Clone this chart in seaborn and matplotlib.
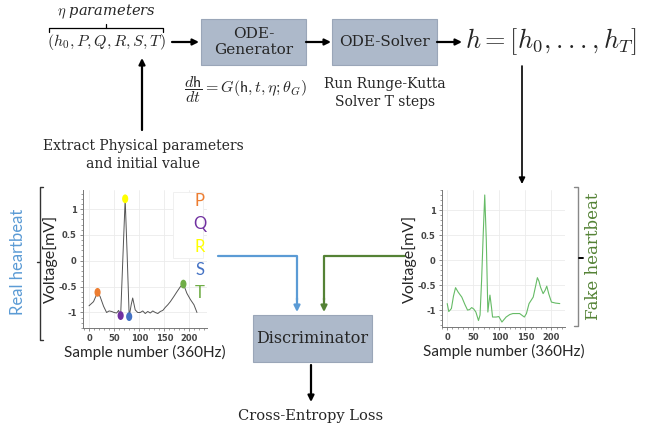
import numpy as np
import pandas as pd
import matplotlib
matplotlib.use("Agg")
import matplotlib.pyplot as plt
from matplotlib.patches import Rectangle
from matplotlib.path import Path
from matplotlib.transforms import Affine2D
from matplotlib.ticker import AutoMinorLocator
import seaborn as sns

# real heartbeat samples (sample index, voltage mV)
real_x = [0, 9, 17, 22, 29, 35, 40, 45, 50, 55, 59, 63, 68, 72, 76, 80, 84, 87, 92,
          97, 102, 107, 112, 117, 122, 127, 132, 137, 142, 147, 152, 157, 162, 169,
          175, 182, 188, 195, 202, 209, 215]
real_y = [-0.87, -0.79, -0.61, -0.69, -0.88, -1.0, -0.97, -0.98, -1.0, -1.01, -0.96,
          -1.06, 0.2, 1.2, 0.1, -1.08, -0.85, -0.72, -0.95, -1.0, -1.0, -0.97, -1.02,
          -0.98, -1.01, -0.97, -1.0, -1.02, -0.98, -0.96, -0.9, -0.85, -0.79, -0.69,
          -0.6, -0.5, -0.45, -0.63, -0.75, -0.85, -1.0]
# annotated fiducial points P, Q, R, S, T
pqrst_names = ["P", "Q", "R", "S", "T"]
pqrst_x = [17, 63, 72, 80, 188]
pqrst_y = [-0.61, -1.06, 1.2, -1.08, -0.45]
pqrst_colors = ["#ED7D31", "#7030A0", "#FFFF00", "#4472C4", "#70AD47"]

# generated (fake) heartbeat
fake_x = [0, 3, 8, 12, 16, 21, 28, 34, 39, 43, 47, 51, 55, 60, 63, 66, 69, 72, 75,
          78, 80, 82, 85, 87, 94, 99, 105, 113, 120, 126, 139, 148, 152, 157, 165,
          170, 173, 176, 179, 184, 188, 191, 195, 200, 208, 216]
fake_y = [-0.87, -1.03, -0.97, -0.72, -0.55, -0.64, -0.74, -0.89, -1.0, -0.99, -0.95,
          -0.98, -1.04, -1.21, -1.1, -0.4, 0.5, 1.31, 0.4, -1.04, -0.85, -0.70,
          -0.95, -1.14, -1.14, -1.13, -1.24, -1.14, -1.09, -1.07, -1.07, -1.14,
          -1.07, -0.87, -0.74, -0.5, -0.35, -0.42, -0.54, -0.67, -0.6, -0.52,
          -0.68, -0.84, -0.86, -0.87]

W, H = 647, 429
sns.set_theme(style="whitegrid")
plt.rcParams["font.family"] = ["DejaVu Serif"]
plt.rcParams["mathtext.fontset"] = "cm"

fig = plt.figure(figsize=(W / 100, H / 100), dpi=100)
bg = fig.add_axes([0, 0, 1, 1])
bg.set_xlim(0, W)
bg.set_ylim(H, 0)
bg.axis("off")

serif = "DejaVu Serif"
sans = "Lato"
box_col = "#ADB9CA"


def arrow(x0, y0, x1, y1, color="black", lw=1.6):
    bg.annotate("", xy=(x1, y1), xytext=(x0, y0),
                arrowprops=dict(arrowstyle="-|>", color=color, lw=lw,
                                mutation_scale=9, shrinkA=0, shrinkB=0))


def box(x0, y0, x1, y1, text, fs=11):
    bg.add_patch(Rectangle((x0, y0), x1 - x0, y1 - y0, facecolor=box_col,
                           edgecolor="#9AA6B8", lw=0.8))
    bg.text((x0 + x1) / 2, (y0 + y1) / 2, text, ha="center", va="center",
            fontsize=fs, family=serif, linespacing=1.25)


# top row
bg.text(106, 12, r"$\eta$ parameters", ha="center", va="center", fontsize=10.5,
        family=serif, style="italic")
bg.plot([49, 49, 163, 163], [32, 28, 28, 32], color="black", lw=0.9)
bg.plot([106, 106], [28, 24], color="black", lw=0.9)
bg.text(106, 42, r"$(h_0,P,Q,R,S,T)$", ha="center", va="center", fontsize=11.5)
arrow(172, 42, 199, 42)
box(201, 19, 306, 65, "ODE-\nGenerator")
arrow(306, 42, 331, 42)
box(332, 19, 437, 65, "ODE-Solver")
arrow(437, 42, 462, 42)
bg.text(551, 42, r"$h=[h_0,...,h_T]$", ha="center", va="center", fontsize=19)
bg.text(245, 90, r"$\dfrac{d\mathsf{h}}{dt}=G(\mathsf{h},t,\eta;\theta_G)$",
        ha="center", va="center", fontsize=11.5)
bg.text(385, 93, "Run Runge-Kutta\nSolver T steps", ha="center", va="center",
        fontsize=10, family=serif, linespacing=1.3)

# extraction arrow
arrow(142, 130, 142, 58)
bg.text(143, 155, "Extract Physical parameters\nand initial value", ha="center",
        va="center", fontsize=10, family=serif, linespacing=1.3)

# h -> fake heartbeat
arrow(522, 66, 522, 184, lw=1.2)

# brackets
bg.plot([43, 40, 40, 43], [187, 187, 340, 340], color="#333333", lw=1)
bg.plot([37, 40], [262, 262], color="#333333", lw=1)
bg.text(18, 262, "Real heartbeat", rotation=90, ha="center", va="center",
        fontsize=12, family=sans, color="#5B9BD5")
bg.plot([574, 578, 578, 574], [187, 187, 326, 326], color="#888888", lw=1)
bg.plot([579, 583], [258, 258], color="black", lw=1.4)
bg.text(594, 256, "Fake heartbeat", rotation=90, ha="center", va="center",
        fontsize=12, family=serif, color="#548235")

# connections to discriminator
bg.plot([218, 297, 297], [256, 256, 300], color="#5B9BD5", lw=1.6)
arrow(297, 298, 297, 312, color="#5B9BD5")
bg.plot([405, 324, 324], [256, 256, 300], color="#548235", lw=1.6)
arrow(324, 298, 324, 312, color="#548235")
box(253, 315, 372, 362, "Discriminator", fs=11.5)
arrow(311, 365, 311, 402)
bg.text(311, 416, "Cross-Entropy Loss", ha="center", va="center", fontsize=10.5,
        family=serif)


def ecg_axes(left, top, right, bottom):
    ax = fig.add_axes([left / W, 1 - bottom / H, (right - left) / W, (bottom - top) / H])
    ax.set_facecolor("white")
    for s in ["top", "right"]:
        ax.spines[s].set_visible(False)
    for s in ["left", "bottom"]:
        ax.spines[s].set_color("#777777")
        ax.spines[s].set_linewidth(0.7)
    return ax


def style_ticks(ax):
    ax.set_xticks([0, 50, 100, 150, 200])
    ax.set_yticks([1, 0.5, 0, -0.5, -1])
    ax.set_yticklabels(["1", "0.5", "0", "-0.5", "-1"])
    ax.xaxis.set_minor_locator(AutoMinorLocator(5))
    ax.yaxis.set_minor_locator(AutoMinorLocator(5))
    ax.grid(False, which="minor")
    ax.grid(True, which="major", color="#EBEBEB", lw=0.6)
    ax.tick_params(which="both", bottom=True, left=True, color="#777777")
    ax.tick_params(labelsize=6, labelcolor="#444444", length=2.5, width=0.6, pad=2)
    ax.tick_params(which="minor", length=1.5, width=0.5)
    for lab in ax.get_xticklabels() + ax.get_yticklabels():
        lab.set_fontweight("bold")
        lab.set_family("DejaVu Sans")
    ax.set_xlabel("Sample number (360Hz)", fontsize=11, family=sans, labelpad=1)
    ax.set_ylabel("Voltage[mV]", fontsize=11.5, family=sans, labelpad=0)


real_df = pd.DataFrame({"sample": real_x, "voltage": real_y})
pts_df = pd.DataFrame({"sample": pqrst_x, "voltage": pqrst_y, "wave": pqrst_names})
fake_df = pd.DataFrame({"sample": fake_x, "voltage": fake_y})

# tall oval dot marker like the reference
circ = Path.unit_circle()
oval = Path(Affine2D().scale(0.7, 1.0).transform(circ.vertices), circ.codes)

ax1 = ecg_axes(83, 190, 207, 328)
sns.lineplot(data=real_df, x="sample", y="voltage", ax=ax1, color="#555555", lw=0.7)
sns.scatterplot(data=pts_df, x="sample", y="voltage", hue="wave", ax=ax1,
                palette=dict(zip(pqrst_names, pqrst_colors)), s=40, marker=oval,
                edgecolor="none", legend=False, zorder=3)
ax1.set_xlim(-12, 235)
ax1.set_ylim(-1.3, 1.37)
style_ticks(ax1)
ax1.add_patch(Rectangle((173, 192), 30, 66, transform=bg.transData, facecolor="white",
                        edgecolor="#EEEEEE", lw=0.6, clip_on=False, zorder=4))
for i, (name, col) in enumerate(zip(pqrst_names, pqrst_colors)):
    ax1.text(200, 201 + i * 23, name, ha="center", va="center", fontsize=12,
             family=sans, color=col, transform=bg.transData, clip_on=False, zorder=5)

ax2 = ecg_axes(442, 190, 565, 327)
sns.lineplot(data=fake_df, x="sample", y="voltage", ax=ax2, color="#66BB66", lw=0.8)
ax2.set_xlim(-10, 226)
ax2.set_ylim(-1.34, 1.41)
style_ticks(ax2)

fig.savefig("out.png", dpi=100)
